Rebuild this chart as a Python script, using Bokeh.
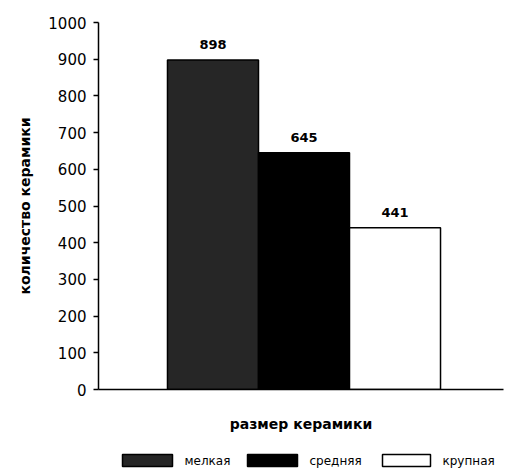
import numpy as np
from bokeh.plotting import figure
from bokeh.layouts import column
from bokeh.models import ColumnDataSource, Range1d, LabelSet, FixedTicker
from bokeh.core.properties import value
from bokeh.embed import file_html
from bokeh.resources import INLINE

categories = ["мелкая", "средняя", "крупная"]
counts = [898, 645, 441]
colors = ["#262626", "#000000", "#ffffff"]
y_ticks = [0, 100, 200, 300, 400, 500, 600, 700, 800, 900, 1000]

x_pos = np.arange(len(categories)) + 1.258
src = ColumnDataSource(dict(x=x_pos, top=counts, color=colors,
                            label=[str(c) for c in counts], cat=categories))

p = figure(width=505, height=440, output_backend="svg", toolbar_location=None,
           x_range=Range1d(0, 4.45), y_range=Range1d(0, 1000),
           min_border_left=98, min_border_right=2, min_border_top=22, min_border_bottom=51)
p.outline_line_color = None
p.grid.visible = False
p.background_fill_color = "white"

r = p.vbar(x="x", top="top", width=1.0, bottom=0, fill_color="color",
           line_color="black", line_width=1.5, source=src)

labels = LabelSet(x="x", y="top", text="label", source=src, text_align="center",
                  y_offset=11, text_font_size="13px", text_font_style="bold",
                  text_font=value("DejaVu Sans"), text_color="black")
p.add_layout(labels)

p.yaxis.ticker = FixedTicker(ticks=y_ticks)
p.yaxis.minor_tick_line_color = None
p.yaxis.major_tick_out = 5
p.yaxis.major_tick_in = 0
p.yaxis.major_label_standoff = 7
p.yaxis.major_label_text_font = "DejaVu Sans"
p.yaxis.major_label_text_font_size = "15px"
p.yaxis.major_label_text_color = "black"
p.yaxis.axis_line_color = "black"
p.yaxis.axis_line_width = 1.5
p.yaxis.major_tick_line_color = "black"
p.yaxis.major_tick_line_width = 1.5
p.yaxis.axis_label = "количество керамики"
p.yaxis.axis_label_text_font = "DejaVu Sans"
p.yaxis.axis_label_text_font_size = "14px"
p.yaxis.axis_label_text_font_style = "bold"
p.yaxis.axis_label_text_color = "black"
p.yaxis.axis_label_standoff = 12

p.xaxis.ticker = FixedTicker(ticks=[])
p.xaxis.minor_tick_line_color = None
p.xaxis.major_tick_line_color = None
p.xaxis.major_label_text_font_size = "0px"
p.xaxis.axis_line_color = "black"
p.xaxis.axis_line_width = 1.5
p.xaxis.axis_label = "размер керамики"
p.xaxis.axis_label_text_font = "DejaVu Sans"
p.xaxis.axis_label_text_font_size = "14px"
p.xaxis.axis_label_text_font_style = "bold"
p.xaxis.axis_label_text_color = "black"
p.xaxis.axis_label_standoff = 26

# legend strip below the chart (screen-pixel coordinates)
lf = figure(width=505, height=29, output_backend="svg", toolbar_location=None,
            x_range=Range1d(98, 503), y_range=Range1d(0, 29),
            x_axis_type=None, y_axis_type=None,
            min_border_left=98, min_border_right=2, min_border_top=0, min_border_bottom=0)
lf.outline_line_color = None
lf.grid.visible = False

sw_left = np.array([122, 247, 382])
sw_w = np.array([50, 50, 48])
leg = ColumnDataSource(dict(x=sw_left + sw_w / 2, w=sw_w, color=colors,
                            tx=sw_left + sw_w + 12, label=categories))
lf.rect(x="x", y=9, width="w", height=12, fill_color="color",
        line_color="black", line_width=1.5, source=leg)
lf.text(x="tx", y=9, text="label", text_baseline="middle", text_align="left",
        text_font=value("DejaVu Sans"), text_font_size="12px", text_color="black",
        source=leg)

layout = column(p, lf, spacing=0)
open("out.html", "w").write(file_html(layout, INLINE))
